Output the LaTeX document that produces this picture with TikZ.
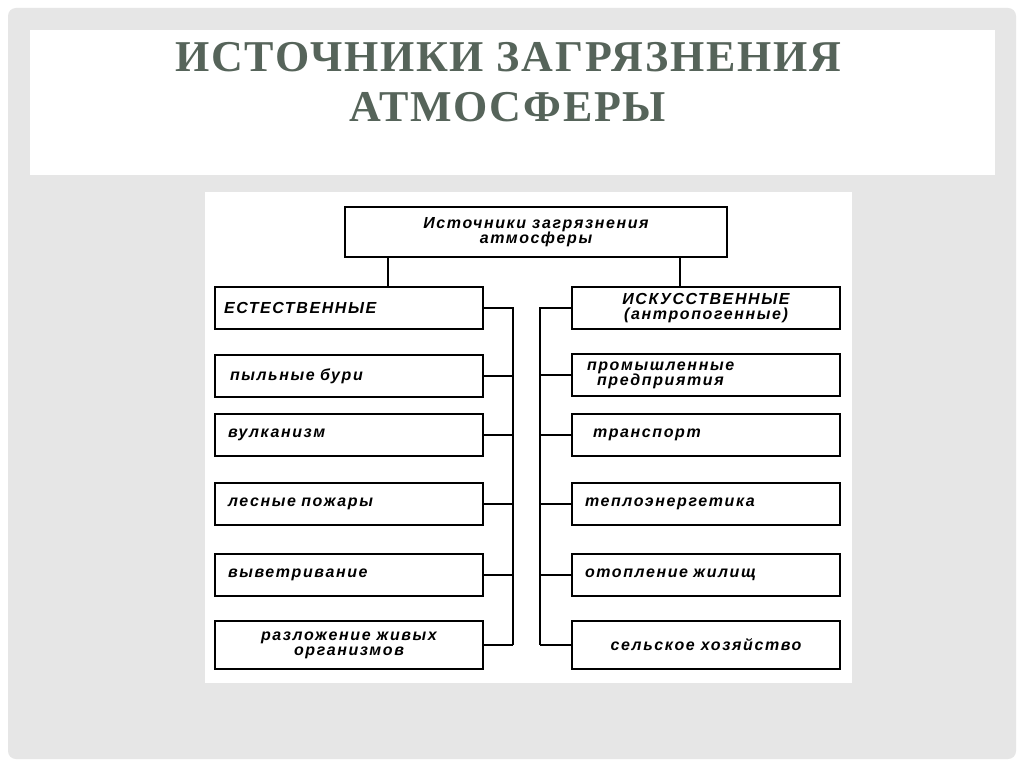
\documentclass[tikz,border=0pt]{standalone}
\usepackage{fontspec}
\setmainfont{Liberation Serif}
\newfontfamily\titlefont[LetterSpace=4]{Liberation Serif}
\newfontfamily\boxfont[LetterSpace=10]{Liberation Sans}
\definecolor{slidebg}{HTML}{E6E6E6}
\definecolor{titlecol}{HTML}{56645A}
\tikzset{
  srcbox/.style={draw, line width=1.6pt, minimum width=268pt, minimum height=42pt, inner sep=2pt,
    font=\boxfont\bfseries\itshape\fontsize{16}{15}\selectfont},
  leftbox/.style={srcbox, text width=250pt, align=left},
  topbox/.style={srcbox, minimum width=382pt, minimum height=50pt, line width=2.2pt, align=center},
  link/.style={line width=1.4pt}
}
\begin{document}
\begin{tikzpicture}[x=1pt,y=-1pt]
\useasboundingbox (0,0) rectangle (1024,767);
\fill[white] (0,0) rectangle (1024,767);
\fill[slidebg, rounded corners=8pt] (8,8) rectangle (1016,759);
\fill[white] (30,30) rectangle (995,175);
\node[text=titlecol, font=\titlefont\bfseries\fontsize{44}{50}\selectfont, align=center] (title) at (508,82)
  {ИСТОЧНИКИ ЗАГРЯЗНЕНИЯ\\АТМОСФЕРЫ};
\fill[white] (205,192) rectangle (852,683);
% top
\node[topbox] (root) at (536,232) {Источники загрязнения\\атмосферы};
% headers
\node[leftbox] (nat) at (349,308) {ЕСТЕСТВЕННЫЕ};
\node[srcbox, align=center] (art) at (706,308) {ИСКУССТВЕННЫЕ\\(антропогенные)};
% natural sources
\node[leftbox] (n1) at (349,376) {\hspace*{6pt}пыльные бури};
\node[leftbox] (n2) at (349,435) {\hspace*{4pt}вулканизм};
\node[leftbox] (n3) at (349,504) {\hspace*{4pt}лесные пожары};
\node[leftbox] (n4) at (349,575) {\hspace*{4pt}выветривание};
\node[srcbox, minimum height=48pt, align=center] (n5) at (349,645) {разложение живых\\организмов};
% artificial sources
\node[leftbox] (a1) at (706,375) {\hspace*{6pt}промышленные\\\hspace*{16pt}предприятия};
\node[leftbox] (a2) at (706,435) {\hspace*{12pt}транспорт};
\node[leftbox] (a3) at (706,504) {\hspace*{4pt}теплоэнергетика};
\node[leftbox] (a4) at (706,575) {\hspace*{4pt}отопление жилищ};
\node[srcbox, minimum height=48pt, align=center] (a5) at (706,645) {сельское хозяйство};
% connectors
\coordinate (nbus) at (513,308);
\coordinate (abus) at (540,308);
\draw[link] (root.south -| 388,0) -- (nat.north -| 388,0);
\draw[link] (root.south -| 680,0) -- (art.north -| 680,0);
\draw[link] (nat.east) -- (nbus) -- (nbus |- n5.east);
\draw[link] (art.west) -- (abus) -- (abus |- a5.west);
\foreach \n in {n1,n2,n3,n4,n5} \draw[link] (\n.east) -- (nbus |- \n.east);
\foreach \n in {a1,a2,a3,a4,a5} \draw[link] (\n.west) -- (abus |- \n.west);
\end{tikzpicture}
\end{document}
